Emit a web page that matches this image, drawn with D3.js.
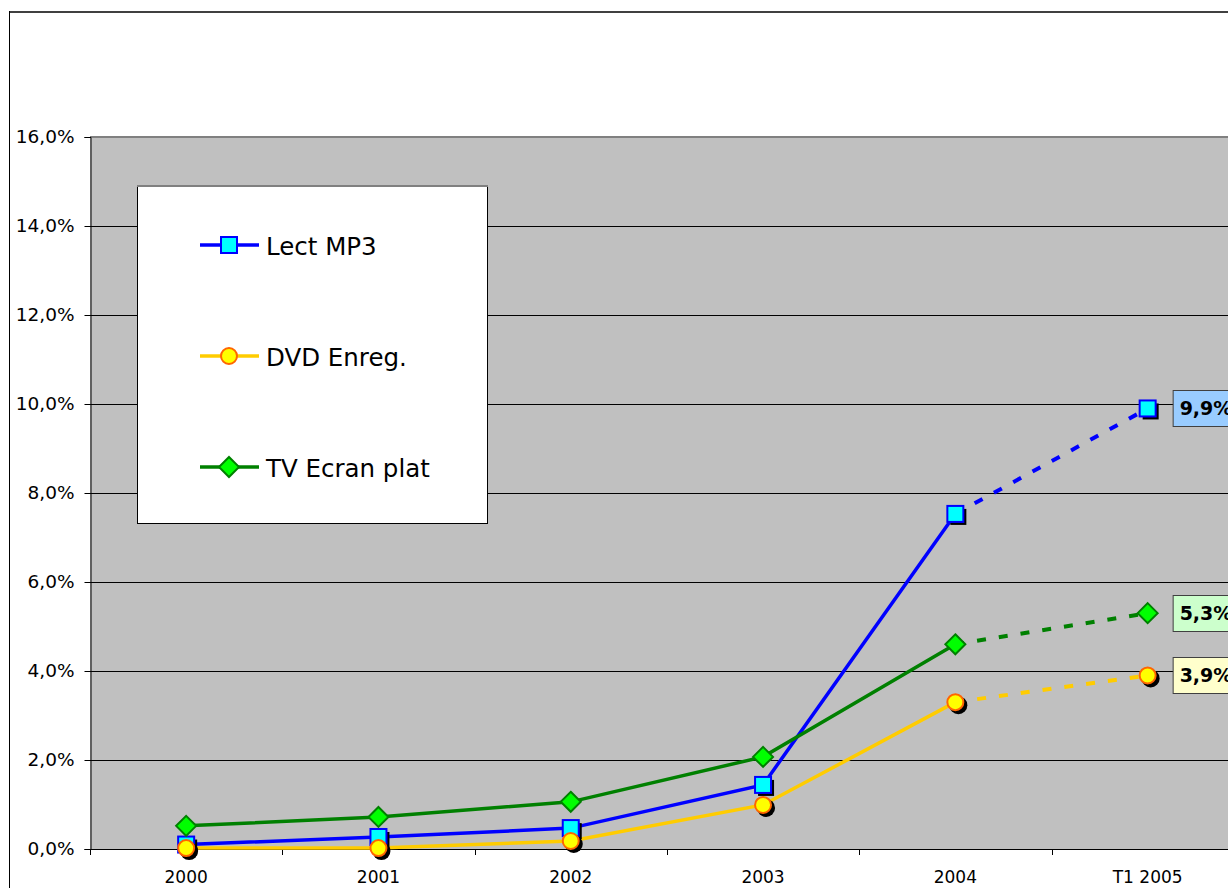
<!DOCTYPE html>
<html>
<head>
<meta charset="utf-8">
<script src="https://cdn.jsdelivr.net/npm/d3@7"></script>
<style>
  body { margin: 0; background: #fff; overflow: hidden; }
  text { font-family: "DejaVu Sans", Verdana, sans-serif; fill: #000; }
</style>
</head>
<body>
<div id="chart-area"></div>
<script>
const categories = ["2000", "2001", "2002", "2003", "2004", "T1 2005"];
const mp3 = [0.1, 0.27, 0.47, 1.44, 7.53, 9.9];
const dvd = [0.02, 0.02, 0.18, 0.99, 3.3, 3.9];
const tv = [0.52, 0.72, 1.06, 2.07, 4.6, 5.3];
const yTicks = [0, 2, 4, 6, 8, 10, 12, 14, 16];
const seriesNames = ["Lect MP3", "DVD Enreg.", "TV Ecran plat"];
const endLabels = ["9,9%", "3,9%", "5,3%"];

const chart = { width: 1228, height: 888 };
const plot = { left: 90, top: 137, bottom: 849, step: 192.3 };

const series = [
  { name: seriesNames[0], values: mp3, line: "#0000ff", fill: "#00ffff", stroke: "#0000ff", shape: "square", shadow: true, label: endLabels[0], box: "#99ccff" },
  { name: seriesNames[1], values: dvd, line: "#ffcc00", fill: "#ffff00", stroke: "#ff6600", shape: "circle", shadow: true, label: endLabels[1], box: "#ffffcc" },
  { name: seriesNames[2], values: tv, line: "#008000", fill: "#00ff00", stroke: "#008000", shape: "diamond", shadow: false, label: endLabels[2], box: "#ccffcc" }
];

const svg = d3.select("#chart-area").append("svg")
  .attr("width", chart.width)
  .attr("height", chart.height);

// outer chart border
svg.append("line").attr("x1", 9).attr("x2", chart.width).attr("y1", 12).attr("y2", 12)
  .attr("stroke", "#404040").attr("stroke-width", 2);
svg.append("line").attr("x1", 9.5).attr("x2", 9.5).attr("y1", 11).attr("y2", chart.height)
  .attr("stroke", "#000").attr("stroke-width", 1);

const x = d3.scaleBand()
  .domain(categories)
  .range([plot.left, plot.left + plot.step * categories.length])
  .padding(0);

const y = d3.scaleLinear().domain([0, 16]).range([plot.bottom, plot.top]);

const cx = c => x(c) + x.bandwidth() / 2;

// plot area
svg.append("rect")
  .attr("x", plot.left).attr("y", plot.top)
  .attr("width", x.range()[1] - plot.left).attr("height", plot.bottom - plot.top)
  .attr("fill", "#c0c0c0");
svg.append("line").attr("x1", plot.left).attr("x2", x.range()[1])
  .attr("y1", plot.top).attr("y2", plot.top)
  .attr("stroke", "#808080").attr("stroke-width", 2);

// gridlines
svg.append("g").selectAll("line").data(yTicks.slice(1, -1)).join("line")
  .attr("x1", plot.left).attr("x2", x.range()[1])
  .attr("y1", d => Math.round(y(d)) + 0.5).attr("y2", d => Math.round(y(d)) + 0.5)
  .attr("stroke", "#000").attr("stroke-width", 1);

// y axis
const yAxis = d3.axisLeft(y)
  .tickValues(yTicks)
  .tickSize(6)
  .tickPadding(10)
  .tickFormat(d => d3.format(".1f")(d).replace(".", ",") + "%");

const gy = svg.append("g")
  .attr("transform", `translate(${plot.left + 0.5},0)`)
  .call(yAxis);
gy.select(".domain").attr("stroke", "#000");
gy.selectAll(".tick line").attr("stroke", "#000");
gy.selectAll(".tick text").style("font-size", "18.5px").attr("fill", "#000");

// x axis
const xAxis = d3.axisBottom(x).tickSize(0).tickPadding(21);
const gx = svg.append("g")
  .attr("transform", `translate(0,${plot.bottom + 0.5})`)
  .call(xAxis);
gx.select(".domain").attr("stroke", "#000").attr("d", `M${plot.left},0H${x.range()[1]}`);
gx.selectAll(".tick text").style("font-size", "17px").attr("fill", "#000");
svg.append("g").selectAll("line").data(categories).join("line")
  .attr("x1", d => Math.round(x(d)) + 0.5).attr("x2", d => Math.round(x(d)) + 0.5)
  .attr("y1", plot.bottom).attr("y2", plot.bottom + 6)
  .attr("stroke", "#000");

// lines: solid up to 2004, dashed to T1 2005
const line = d3.line().x(d => cx(d.c)).y(d => y(d.v));

series.forEach(s => {
  const pts = s.values.map((v, i) => ({ c: categories[i], v }));
  svg.append("path").datum(pts.slice(0, 5))
    .attr("d", line).attr("fill", "none")
    .attr("stroke", s.line).attr("stroke-width", 3.5);
  svg.append("path").datum(pts.slice(4))
    .attr("d", line).attr("fill", "none")
    .attr("stroke", s.line).attr("stroke-width", 4)
    .attr("stroke-dasharray", "9,13");
});

const drawMarker = (g, s, px, py, withShadow) => {
  if (s.shape === "square") {
    if (withShadow) g.append("rect").attr("x", px - 8 + 3).attr("y", py - 8 + 3)
      .attr("width", 16).attr("height", 16).attr("fill", "#000");
    g.append("rect").attr("x", px - 8).attr("y", py - 8)
      .attr("width", 16).attr("height", 16)
      .attr("fill", s.fill).attr("stroke", s.stroke).attr("stroke-width", 2);
  } else if (s.shape === "circle") {
    if (withShadow) g.append("circle").attr("cx", px + 3).attr("cy", py + 3).attr("r", 9).attr("fill", "#000");
    g.append("circle").attr("cx", px).attr("cy", py).attr("r", 8)
      .attr("fill", s.fill).attr("stroke", s.stroke).attr("stroke-width", 2);
  } else {
    g.append("path")
      .attr("d", `M${px},${py - 10}L${px + 10},${py}L${px},${py + 10}L${px - 10},${py}Z`)
      .attr("fill", s.fill).attr("stroke", s.stroke).attr("stroke-width", 2);
  }
};

// markers (drawn after all lines)
[series[0], series[2], series[1]].forEach(s => {
  const g = svg.append("g");
  s.values.forEach((v, i) => drawMarker(g, s, cx(categories[i]), y(v), s.shadow));
});

// end labels
series.forEach(s => {
  const last = s.values.length - 1;
  const px = cx(categories[last]) + 25;
  const py = y(s.values[last]);
  svg.append("rect")
    .attr("x", px + 0.5).attr("y", Math.round(py - 18) + 0.5)
    .attr("width", 80).attr("height", 36)
    .attr("fill", s.box).attr("stroke", "#404040").attr("stroke-width", 1);
  svg.append("text")
    .attr("x", px + 7).attr("y", py).attr("dy", "0.36em")
    .style("font-size", "19px").style("font-weight", "bold")
    .text(s.label);
});

// legend
const legend = { x: 137, y: 186, w: 350, h: 337 };
svg.append("rect")
  .attr("x", legend.x + 0.5).attr("y", legend.y + 0.5)
  .attr("width", legend.w).attr("height", legend.h)
  .attr("fill", "#fff").attr("stroke", "#000").attr("stroke-width", 1);
svg.append("line").attr("x1", legend.x).attr("x2", legend.x + legend.w + 1)
  .attr("y1", legend.y).attr("y2", legend.y).attr("stroke", "#808080").attr("stroke-width", 2);

const legendRows = [245, 356, 467];
series.forEach((s, i) => {
  const g = svg.append("g");
  const ly = legendRows[i];
  g.append("line").attr("x1", 200).attr("x2", 259).attr("y1", ly).attr("y2", ly)
    .attr("stroke", s.line).attr("stroke-width", 3.5);
  drawMarker(g, s, 229, ly, false);
  g.append("text").attr("x", 266).attr("y", ly + 10)
    .style("font-size", "24.5px").text(s.name);
});
</script>
</body>
</html>
